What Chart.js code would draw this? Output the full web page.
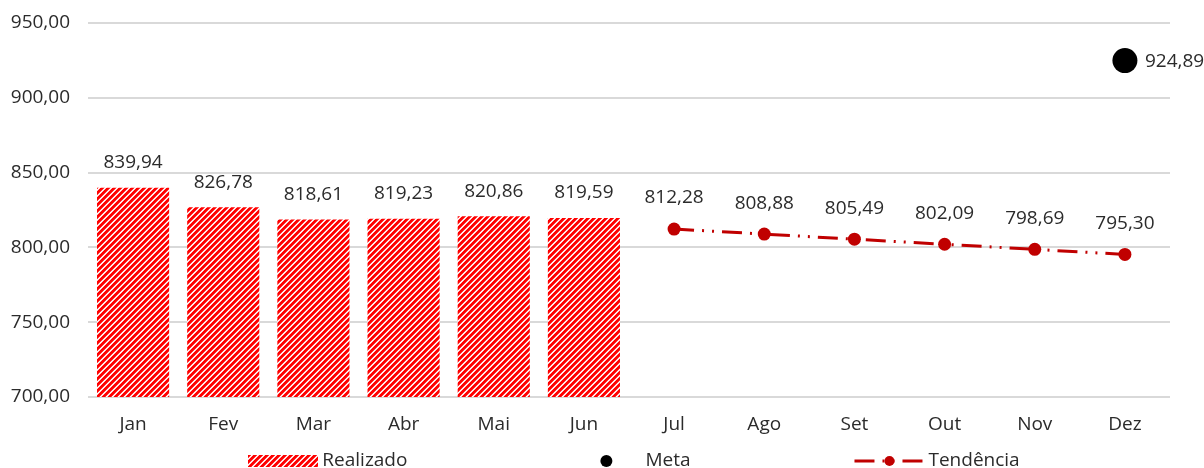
<!DOCTYPE html>
<html>
<head>
<meta charset="utf-8">
<script src="https://cdn.jsdelivr.net/npm/chart.js@4"></script>
<style>
html,body{margin:0;padding:0;background:#fff;}
#wrap{width:1204px;height:468px;position:relative;}
</style>
</head>
<body>
<div id="wrap"><canvas id="c" width="1204" height="468"></canvas></div>
<script>
const categories = ['Jan','Fev','Mar','Abr','Mai','Jun','Jul','Ago','Set','Out','Nov','Dez'];
const realizado = [839.94, 826.78, 818.61, 819.23, 820.86, 819.59, null, null, null, null, null, null];
const meta = [null, null, null, null, null, null, null, null, null, null, null, 924.89];
const tendencia = [null, null, null, null, null, null, 812.28, 808.88, 805.49, 802.09, 798.69, 795.30];
const yTicks = [700, 750, 800, 850, 900, 950];
const seriesNames = ['Realizado', 'Meta', 'Tendência'];

const FONT = '"Open Sans", sans-serif';
const FS = 19;
const TXT = '#2b2b2b';
const DARKRED = '#C00000';
const DASH = [20, 8, 2, 8, 2, 8];

function makePattern() {
  const s = 6;
  const c = document.createElement('canvas');
  c.width = s; c.height = s;
  const ctx = c.getContext('2d');
  const img = ctx.createImageData(s, s);
  const shades = [0, 0, 0, 60, 255, 200];
  for (let y = 0; y < s; y++) {
    for (let x = 0; x < s; x++) {
      const i = (y * s + x) * 4;
      const g = shades[(x + y) % s];
      img.data[i] = 255;
      img.data[i+1] = g;
      img.data[i+2] = g;
      img.data[i+3] = 255;
    }
  }
  ctx.putImageData(img, 0, 0);
  return document.getElementById('c').getContext('2d').createPattern(c, 'repeat');
}
const pattern = makePattern();

function fmt(v) { return v.toFixed(2).replace('.', ','); }

const labelsPlugin = {
  id: 'valueLabels',
  afterDatasetsDraw(chart) {
    const ctx = chart.ctx;
    ctx.save();
    ctx.font = FS + 'px ' + FONT;
    ctx.fillStyle = TXT;
    chart.data.datasets.forEach((ds, di) => {
      const m = chart.getDatasetMeta(di);
      m.data.forEach((el, i) => {
        const v = ds.data[i];
        if (v === null || v === undefined) return;
        if (ds.label === 'Meta') {
          ctx.textAlign = 'left'; ctx.textBaseline = 'middle';
          ctx.fillText(fmt(v), el.x + 20, el.y + 1);
        } else if (ds.label === 'Realizado') {
          ctx.textAlign = 'center'; ctx.textBaseline = 'middle';
          ctx.fillText(fmt(v), el.x, el.y - 25);
        } else {
          ctx.textAlign = 'center'; ctx.textBaseline = 'middle';
          ctx.fillText(fmt(v), el.x, el.y - 31);
        }
      });
    });
    ctx.restore();
  }
};

const legendPlugin = {
  id: 'customLegend',
  afterDraw(chart) {
    const ctx = chart.ctx;
    ctx.save();
    ctx.font = FS + 'px ' + FONT;
    const box = 70, gapTxt = 4, gap = 164;
    const widths = seriesNames.map(n => box + gapTxt + ctx.measureText(n).width);
    const total = widths.reduce((a, b) => a + b, 0) + gap * (widths.length - 1);
    const ca = chart.chartArea;
    let x = (ca.left + ca.right) / 2 + 5 - total / 2;
    const cy = 461;
    seriesNames.forEach((n, i) => {
      if (i === 0) {
        ctx.fillStyle = pattern;
        ctx.fillRect(Math.round(x), cy - 6, box, 12);
      } else if (i === 1) {
        ctx.fillStyle = '#000';
        ctx.beginPath(); ctx.arc(x + box / 2, cy, 6, 0, Math.PI * 2); ctx.fill();
      } else {
        ctx.strokeStyle = DARKRED; ctx.lineWidth = 3;
        ctx.setLineDash(DASH);
        ctx.beginPath(); ctx.moveTo(x, cy); ctx.lineTo(x + box, cy); ctx.stroke();
        ctx.setLineDash([]);
        ctx.fillStyle = DARKRED;
        ctx.beginPath(); ctx.arc(x + box / 2, cy, 5, 0, Math.PI * 2); ctx.fill();
      }
      ctx.fillStyle = TXT;
      ctx.textAlign = 'left'; ctx.textBaseline = 'middle';
      ctx.fillText(n, x + box + gapTxt, cy);
      x += widths[i] + gap;
    });
    ctx.restore();
  }
};

new Chart(document.getElementById('c'), {
  data: {
    labels: categories,
    datasets: [
      {
        type: 'line', label: 'Meta', data: meta, showLine: false,
        pointRadius: 12.5, pointBackgroundColor: '#000', pointBorderColor: '#000',
        pointBorderWidth: 0, order: 0
      },
      {
        type: 'line', label: 'Tendência', data: tendencia,
        borderColor: DARKRED, borderWidth: 3, borderDash: DASH,
        pointRadius: 6.5, pointBackgroundColor: DARKRED, pointBorderColor: DARKRED,
        pointBorderWidth: 0, spanGaps: false, order: 1
      },
      {
        type: 'bar', label: 'Realizado', data: realizado,
        backgroundColor: pattern, borderWidth: 0,
        categoryPercentage: 0.8, barPercentage: 1.0, order: 2
      }
    ]
  },
  options: {
    responsive: false,
    animation: false,
    events: [],
    layout: { padding: { top: 23, right: 34, bottom: 31, left: 0 } },
    plugins: { legend: { display: false }, tooltip: { enabled: false } },
    scales: {
      x: {
        grid: { display: false, drawTicks: false },
        border: { display: false },
        ticks: { color: TXT, font: { family: FONT, size: FS }, padding: 16, maxRotation: 0 },
        afterFit(s) { s.height = 40; s.paddingLeft = 0; s.paddingRight = 0; }
      },
      y: {
        min: 700, max: 950,
        afterBuildTicks(s) { s.ticks = yTicks.map(v => ({ value: v })); },
        grid: { color: '#d9d9d9', lineWidth: 2, drawTicks: false },
        border: { display: false },
        ticks: { color: TXT, font: { family: FONT, size: FS }, padding: 18, callback: v => fmt(v) },
        afterFit(s) { s.width = 88; s.paddingTop = 0; s.paddingBottom = 0; }
      }
    }
  },
  plugins: [labelsPlugin, legendPlugin]
});
</script>
</body>
</html>
